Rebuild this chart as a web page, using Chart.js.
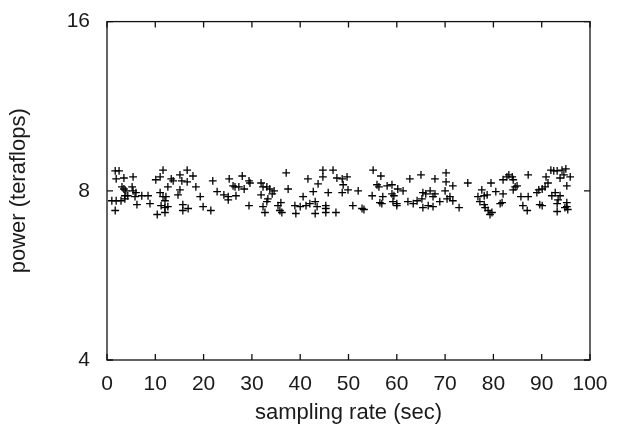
<!DOCTYPE html>
<html>
<head>
<meta charset="utf-8">
<script src="https://cdn.jsdelivr.net/npm/chart.js@4/dist/chart.umd.min.js"></script>
<style>
html,body{margin:0;padding:0;background:#fff;}
#wrap{width:628px;height:427px;}
</style>
</head>
<body>
<div id="wrap"><canvas id="c" width="628" height="427"></canvas></div>
<script>
const xTickValues = [0,10,20,30,40,50,60,70,80,90,100];
const yTickValues = [4,8,16];
const xValues = [
1.7,2.5,1.9,3.5,5.4,3.1,3.5,3.9,5.2,5.4,6.0,3.7,4.3,1.0,1.9,2.9,3.7,5.8,7.2,8.5,6.2,1.7,8.9,11.6,11.0,10.1,13.3,13.7,15.1,16.6,17.8,15.5,16.6,12.6,15.1,14.7,18.4,19.3,11.0,11.6,12.2,12.0,11.2,12.0,12.6,10.4,12.0,15.7,15.7,16.8,19.9,21.5,21.9,22.8,24.2,25.1,25.3,
28.0,26.1,26.5,27.3,28.4,29.4,29.6,25.1,26.7,29.4,31.9,32.3,33.1,33.7,34.6,34.2,31.9,33.3,33.1,32.3,32.7,35.4,36.0,35.8,36.2,37.1,37.5,38.9,39.1,40.0,40.6,41.6,42.7,43.7,41.2,42.0,43.1,43.5,43.1,44.7,44.7,46.8,45.8,45.3,45.3,45.3,47.4,47.6,
49.7,48.7,48.9,49.9,48.7,52.0,50.9,52.8,53.2,55.1,56.7,55.9,56.3,58.0,59.0,54.9,57.1,59.0,59.4,60.2,61.3,56.5,56.9,59.2,60.0,60.0,62.3,63.4,64.2,65.2,62.7,65.0,65.4,66.0,66.9,67.9,67.5,65.4,66.5,67.5,67.9,70.2,70.2,71.6,70.0,68.9,70.4,71.0,71.6,72.9,74.7,
77.6,76.8,78.1,78.7,77.2,78.1,78.3,78.9,79.7,79.3,79.5,80.5,82.0,81.8,81.4,82.0,82.8,83.2,83.9,84.1,84.5,84.1,84.9,85.7,87.2,86.1,87.0,87.2,89.0,89.4,90.1,90.7,91.3,89.6,90.1,90.9,91.9,92.5,93.2,92.1,92.8,93.8,93.4,93.2,93.8,94.6,94.2,95.0,95.9,95.2,95.2,94.8,95.4,95.2,93.2
];
const yValues = [
8.68,8.68,8.40,8.43,8.47,8.13,8.06,8.00,8.13,8.00,7.94,7.84,7.84,7.68,7.68,7.68,7.74,7.81,7.84,7.84,7.56,7.38,7.59,8.71,8.47,8.37,8.40,8.33,8.54,8.71,8.50,8.33,8.30,8.13,8.03,7.87,8.13,7.81,7.94,7.81,7.81,7.68,7.53,7.47,7.50,7.26,7.32,7.56,7.38,7.44,7.50,7.38,8.33,7.97,7.87,7.81,8.40,
8.50,8.16,8.13,8.13,8.06,8.33,8.26,7.71,7.84,7.53,8.26,8.13,8.13,8.06,8.00,7.90,7.87,7.74,7.65,7.50,7.32,7.53,7.62,7.38,7.32,8.61,8.06,7.53,7.29,7.50,7.81,8.40,7.97,8.23,7.53,7.59,7.65,7.50,7.29,8.71,8.47,8.71,7.94,7.53,7.44,7.32,7.32,8.43,
8.47,8.40,8.20,8.03,7.94,8.00,7.53,7.44,7.41,8.71,8.50,8.20,8.13,8.16,8.20,7.84,7.81,7.90,7.84,8.06,8.00,7.62,7.59,7.65,7.59,7.53,7.65,7.59,7.68,7.74,8.40,8.54,7.94,7.90,8.00,7.90,7.81,7.47,7.53,7.50,8.40,8.61,8.30,8.16,8.00,7.65,7.74,7.81,7.68,7.47,8.26,
8.03,7.81,7.84,7.87,7.65,7.56,7.47,7.38,7.32,7.26,8.26,7.97,7.90,7.62,7.59,8.37,8.47,8.54,8.47,8.37,8.13,8.03,8.16,7.81,7.81,7.53,7.38,8.54,7.94,8.03,8.06,8.13,8.26,7.56,7.53,8.47,8.71,8.68,8.68,7.84,7.94,7.84,7.71,7.59,8.43,8.54,8.71,8.75,8.47,8.16,7.62,7.47,7.41,7.50,7.35
];
const xTitle = 'sampling rate (sec)';
const yTitle = 'power (teraflops)';

const points = xValues.map((x, i) => ({x: x, y: yValues[i]}));
const FONT = '"Liberation Sans", Arial, sans-serif';
const TXT = '#1a1a1a';

const framePlugin = {
  id: 'frame',
  afterDraw(chart) {
    const {ctx, chartArea: a, scales} = chart;
    ctx.save();
    ctx.strokeStyle = '#111';
    ctx.lineWidth = 1.3;
    ctx.strokeRect(a.left, a.top, a.right - a.left, a.bottom - a.top);
    const L = 6;
    ctx.beginPath();
    xTickValues.forEach(v => {
      const px = scales.x.getPixelForValue(v);
      ctx.moveTo(px, a.bottom); ctx.lineTo(px, a.bottom - L);
      ctx.moveTo(px, a.top); ctx.lineTo(px, a.top + L);
    });
    yTickValues.forEach(v => {
      const py = scales.y.getPixelForValue(v);
      ctx.moveTo(a.left, py); ctx.lineTo(a.left + L, py);
      ctx.moveTo(a.right, py); ctx.lineTo(a.right - L, py);
    });
    ctx.stroke();
    ctx.restore();
  }
};

new Chart(document.getElementById('c'), {
  type: 'scatter',
  data: {
    datasets: [{
      data: points,
      pointStyle: 'cross',
      pointRadius: 3.9,
      pointBorderWidth: 1.3,
      borderColor: '#000',
      backgroundColor: '#000'
    }]
  },
  options: {
    responsive: false,
    animation: false,
    layout: {padding: {left: 0, top: 13, right: 38, bottom: 0}},
    plugins: {legend: {display: false}, tooltip: {enabled: false}},
    scales: {
      x: {
        type: 'linear', min: 0, max: 100,
        afterBuildTicks: s => { s.ticks = xTickValues.map(v => ({value: v})); },
        afterFit: s => { s.height = 67; },
        grid: {display: false},
        border: {display: false},
        ticks: {color: TXT, font: {family: FONT, size: 21}, padding: 4, maxRotation: 0},
        title: {display: true, text: xTitle, color: TXT, font: {family: FONT, size: 22}, padding: {top: 2, bottom: 1}}
      },
      y: {
        type: 'logarithmic', min: 4, max: 16,
        afterBuildTicks: s => { s.ticks = yTickValues.map(v => ({value: v})); },
        afterFit: s => { s.width = 107; },
        grid: {display: false},
        border: {display: false},
        ticks: {color: TXT, font: {family: FONT, size: 21}, padding: 9, callback: v => String(v)},
        title: {display: true, text: yTitle, color: TXT, font: {family: FONT, size: 22}, padding: {top: 6, bottom: 0}}
      }
    }
  },
  plugins: [framePlugin]
});
</script>
</body>
</html>
